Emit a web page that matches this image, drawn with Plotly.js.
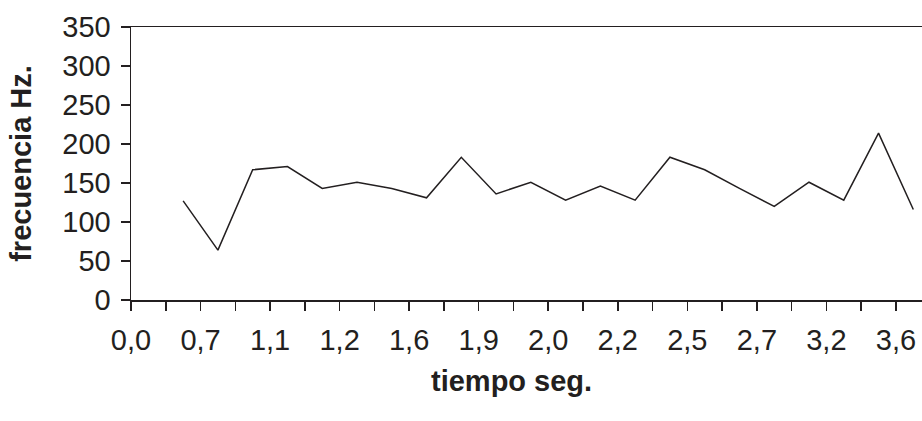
<!DOCTYPE html>
<html>
<head>
<meta charset="utf-8">
<script src="https://cdn.plot.ly/plotly-3.0.1.min.js"></script>
<style>
  html, body { margin: 0; padding: 0; background: #ffffff; }
  #chart { width: 922px; height: 421px; }
</style>
</head>
<body>
<div id="chart"></div>
<script>
// Tick labels (tiempo, s) shown on every other category boundary
var tiempoLabels = ["0,0", "0,7", "1,1", "1,2", "1,6", "1,9", "2,0", "2,2", "2,5", "2,7", "3,2", "3,6"];

// Frequency (Hz) per sample category; first category has no value
var frecuencia = [null, 127, 64, 167, 171, 143, 151, 143, 131, 183, 136, 151,
                  128, 146, 128, 183, 167, 143, 120, 151, 128, 214, 116];

var ink = "#231f20";
var xIdx = frecuencia.map(function (_, i) { return i; });

// Category boundaries; labels on every other boundary
var tickvals = [], ticktext = [];
for (var b = 0; b < frecuencia.length; b++) {
  tickvals.push(b - 0.5);
  ticktext.push(b % 2 === 0 ? tiempoLabels[b / 2] : "");
}

var trace = {
  type: "scatter",
  mode: "lines",
  x: xIdx,
  y: frecuencia,
  connectgaps: false,
  line: { color: ink, width: 1.5 },
  hoverinfo: "x+y"
};

var layout = {
  width: 922,
  height: 421,
  margin: { l: 131, r: 0, t: 27, b: 121 },
  paper_bgcolor: "#ffffff",
  plot_bgcolor: "#ffffff",
  showlegend: false,
  font: { family: "Liberation Sans, Arial, sans-serif", color: ink, size: 29 },
  xaxis: {
    range: [-0.5, 22.25],
    tickmode: "array",
    tickvals: tickvals,
    ticktext: ticktext,
    ticks: "outside",
    ticklen: 9,
    tickwidth: 1.5,
    tickcolor: ink,
    ticklabelstandoff: 5,
    showline: true,
    linecolor: ink,
    linewidth: 1.5,
    mirror: true,
    showgrid: false,
    zeroline: false,
    tickfont: { size: 29, color: ink }
  },
  yaxis: {
    range: [0, 350],
    tick0: 0,
    dtick: 50,
    ticks: "outside",
    ticklen: 9,
    tickwidth: 1.5,
    tickcolor: ink,
    ticklabelstandoff: 4,
    showline: true,
    linecolor: ink,
    linewidth: 1.5,
    showgrid: false,
    zeroline: false,
    tickfont: { size: 29, color: ink },
    title: { text: "frecuencia Hz.", font: { size: 29, color: ink, weight: "bold" }, standoff: 22 }
  },
  annotations: [{
    text: "tiempo seg.",
    xref: "paper", yref: "paper",
    x: (511 - 131) / 791, y: -(381 - 300) / 273,
    xanchor: "center", yanchor: "middle",
    showarrow: false,
    font: { size: 29, color: ink, weight: "bold" }
  }]
};

Plotly.newPlot("chart", [trace], layout, { displayModeBar: false, staticPlot: true });
</script>
</body>
</html>
